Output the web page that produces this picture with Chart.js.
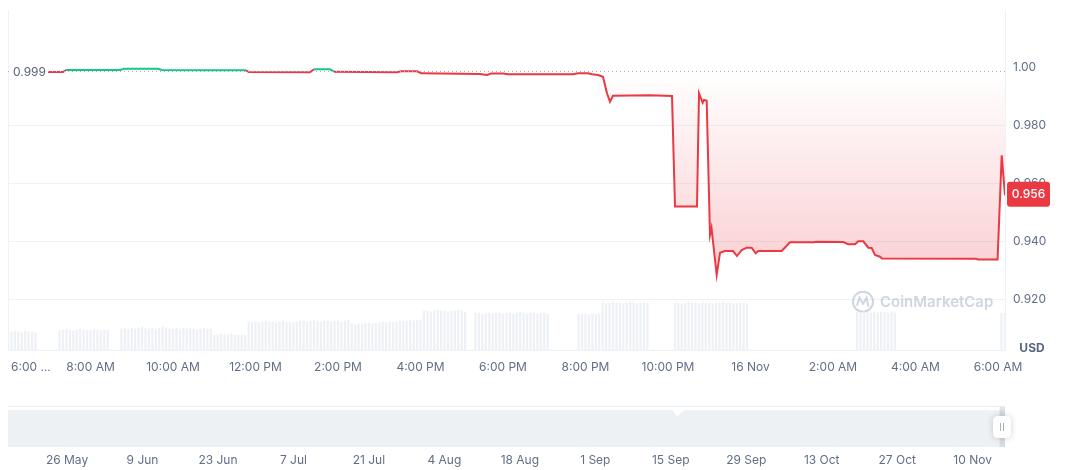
<!DOCTYPE html>
<html><head><meta charset="utf-8">
<script src="https://cdn.jsdelivr.net/npm/chart.js@4.4.1/dist/chart.umd.min.js"></script>
<style>
html,body{margin:0;padding:0;background:#fff;}
#wrap{width:1072px;height:470px;position:relative;overflow:hidden;}
canvas{display:block;}
</style></head><body>
<div id="wrap">
<canvas id="main" width="1072" height="385"></canvas>
<canvas id="nav" width="1072" height="85"></canvas>
</div>
<script>
// ---------- DATA ----------
const BASELINE = 0.999;
const CURRENT_PRICE = 0.956;

// hours since 6:00 AM (15 Nov) and price in USD
const PRICE_HOURS = [0.970,1.333,1.406,2.715,2.812,3.636,3.733,4.776,5.770,5.842,7.321,7.418,7.806,7.903,9.430,9.527,9.915,10.012,11.442,11.612,11.709,12.000,12.121,13.697,13.818,14.061,14.158,14.303,14.424,14.521,14.594,14.667,15.564,16.097,16.170,16.703,16.752,16.841,16.873,16.938,17.018,17.055,17.181,17.261,17.382,17.576,17.673,17.787,17.908,18.029,18.126,18.189,18.756,18.958,19.523,19.605,20.250,20.370,20.533,20.613,20.735,20.856,20.938,21.018,21.139,21.188,23.467,23.515,23.990,24.090,24.170];
const PRICE_VALUES = [0.99852,0.99852,0.99921,0.99921,0.99966,0.99966,0.99921,0.99910,0.99910,0.99852,0.99845,0.99945,0.99945,0.99862,0.99841,0.99876,0.99876,0.99807,0.99783,0.99748,0.99800,0.99800,0.99772,0.99772,0.99807,0.99807,0.99772,0.99748,0.99690,0.99117,0.98828,0.99034,0.99048,0.99024,0.95214,0.95214,0.99117,0.98793,0.98886,0.98862,0.94231,0.94472,0.92852,0.93621,0.93679,0.93679,0.93507,0.93714,0.93793,0.93793,0.93600,0.93679,0.93679,0.93979,0.93979,0.94000,0.93990,0.93910,0.93910,0.94014,0.94014,0.93793,0.93783,0.93541,0.93483,0.93421,0.93414,0.93386,0.93386,0.96979,0.95600];

// volume (thousand USD) in 5-minute buckets starting 6:00 AM, one row per hour
const VOLUME_5MIN = [
  17,18,19,18,17,19,18,18,17,0,0,0,
  0,0,0,19,20,21,20,19,20,21,20,20,
  20,21,20,19,20,20,0,0,0,21,22,21,
  22,21,22,23,22,21,22,21,22,23,22,21,
  21,22,21,22,21,22,21,20,21,22,21,21,
  15,15,16,15,15,16,15,15,15,15,28,28,
  28,27,28,29,28,28,27,28,29,28,28,27,
  28,29,29,28,29,30,29,28,29,29,28,29,
  29,28,29,30,26,25,26,26,27,27,26,27,
  27,28,27,28,28,28,29,29,29,30,29,30,
  30,39,39,38,39,40,39,39,38,39,39,40,
  39,38,0,0,37,37,36,37,37,36,37,37,
  36,37,37,36,37,38,37,36,37,37,36,37,
  37,36,0,0,0,0,0,0,0,0,36,36,
  36,35,36,36,36,47,46,47,48,47,47,46,
  47,48,47,46,47,47,47,0,0,0,0,0,
  0,0,47,47,46,47,48,47,47,46,47,47,
  47,46,47,47,48,47,47,46,47,47,47,46,
  0,0,0,0,0,0,0,0,0,0,0,0,
  0,0,0,0,0,0,0,0,0,0,0,0,
  0,0,0,0,0,0,0,38,37,38,38,37,
  38,37,38,38,37,38,37,0,0,0,0,0,
  0,0,0,0,0,0,0,0,0,0,0,0,
  0,0,0,0,0,0,0,0,0,0,0,0,
  0,37,37
];

const X_TICK_HOURS = [0,2,4,6,8,10,12,14,16,18,20,22,24];
const X_TICK_LABELS = ['6:00 ...','8:00 AM','10:00 AM','12:00 PM','2:00 PM','4:00 PM','6:00 PM','8:00 PM','10:00 PM','16 Nov','2:00 AM','4:00 AM','6:00 AM'];
const Y_TICKS = [0.92,0.94,0.96,0.98,1.00];

// navigator: days since 26 May, price
const NAV_DAYS =   [-11,-4,3,10,17,24,31,38,45,52,59,66,73,80,87,94,101,108,112.2,113.2,114.5,122,129,136,143,150,157,164,171,174];
const NAV_VALUES = [1.0,1.0,1.0,1.0,1.0,1.0,1.0,1.0,1.0,1.0,1.0,1.0,1.0,1.0,1.0,1.0,1.0,1.0,1.0,0.83,0.99,0.995,0.995,0.995,0.995,0.995,0.995,0.995,0.995,0.995];
const NAV_TICK_DAYS = [0,14,28,42,56,70,84,98,112,126,140,154,168];
const NAV_TICK_LABELS = ['26 May','9 Jun','23 Jun','7 Jul','21 Jul','4 Aug','18 Aug','1 Sep','15 Sep','29 Sep','13 Oct','27 Oct','10 Nov'];

// ---------- STYLE ----------
const RED = '#ea3943', GREEN = '#16c784';
const TICK_COLOR = '#616e85', TEXT = '#58667e', GRID = '#eff2f5';
const FONT = 'Inter, "Noto Sans", sans-serif';
Chart.defaults.font.family = FONT;
Chart.defaults.font.size = 12;
Chart.defaults.color = TICK_COLOR;

function rr(ctx, x, y, w, h, r){
  ctx.beginPath();
  ctx.moveTo(x+r,y); ctx.lineTo(x+w-r,y); ctx.quadraticCurveTo(x+w,y,x+w,y+r);
  ctx.lineTo(x+w,y+h-r); ctx.quadraticCurveTo(x+w,y+h,x+w-r,y+h);
  ctx.lineTo(x+r,y+h); ctx.quadraticCurveTo(x,y+h,x,y+h-r);
  ctx.lineTo(x,y+r); ctx.quadraticCurveTo(x,y,x+r,y); ctx.closePath();
}

const mainDecor = {
  id: 'mainDecor',
  beforeDatasetsDraw(chart){
    const {ctx, chartArea:a, scales} = chart;
    ctx.save();
    ctx.strokeStyle = GRID; ctx.lineWidth = 1;
    ctx.beginPath(); ctx.moveTo(a.left+0.5, a.top); ctx.lineTo(a.left+0.5, a.bottom); ctx.stroke();
    // watermark
    const wy = scales.y.getPixelForValue(0.92) + 2;
    const lx = a.right - 142;
    const wc = 'rgba(170,180,198,0.55)';
    ctx.strokeStyle = wc; ctx.lineWidth = 2;
    ctx.beginPath(); ctx.arc(lx, wy, 10, 0, Math.PI*2); ctx.stroke();
    ctx.beginPath(); ctx.moveTo(lx-6, wy+4); ctx.lineTo(lx-3.5, wy-4); ctx.lineTo(lx, wy+2); ctx.lineTo(lx+3.5, wy-4); ctx.lineTo(lx+5.5, wy+5); ctx.stroke();
    ctx.fillStyle = wc; ctx.font = '600 15px ' + FONT; ctx.textBaseline = 'middle'; ctx.textAlign = 'left';
    ctx.fillText('CoinMarketCap', lx+17, wy+1);
    ctx.restore();
  },
  afterDatasetsDraw(chart){
    const {ctx, chartArea:a, scales} = chart;
    ctx.save();
    const by = Math.round(scales.y.getPixelForValue(BASELINE)) + 0.5;
    ctx.strokeStyle = '#a6b0c3'; ctx.lineWidth = 1; ctx.setLineDash([1,3]);
    ctx.beginPath(); ctx.moveTo(a.left, by); ctx.lineTo(a.right, by); ctx.stroke();
    ctx.setLineDash([]);
    ctx.fillStyle = '#fff'; ctx.fillRect(a.left+3, by-7, 36, 14);
    ctx.fillStyle = TEXT; ctx.font = '12px ' + FONT; ctx.textAlign = 'left'; ctx.textBaseline = 'middle';
    ctx.fillText(BASELINE.toFixed(3), a.left+5, by+1);
    // current price tag
    const py = scales.y.getPixelForValue(CURRENT_PRICE) - 1;
    ctx.fillStyle = RED; rr(ctx, a.right+2, py-12.5, 43, 25, 3); ctx.fill();
    ctx.fillStyle = '#fff'; ctx.font = '500 12px ' + FONT; ctx.textAlign = 'center';
    ctx.fillText(CURRENT_PRICE.toFixed(3), a.right+23.5, py+0.5);
    // USD
    ctx.fillStyle = TEXT; ctx.font = 'bold 12px ' + FONT;
    ctx.fillText('USD', a.right+27, a.bottom-2);
    // first x label
    ctx.fillStyle = TICK_COLOR; ctx.font = '12px ' + FONT; ctx.textAlign = 'left';
    ctx.fillText(X_TICK_LABELS[0], a.left+3, a.bottom+17);
    ctx.restore();
  }
};

const priceData = PRICE_HOURS.map((h,i)=>({x:h, y:PRICE_VALUES[i]}));
const volData = VOLUME_5MIN.map((v,i)=>({x:i/12, y:v}));

new Chart(document.getElementById('main'), {
  data: {
    datasets: [
      {
        type: 'line', data: priceData, yAxisID: 'y', order: 0,
        borderWidth: 2, pointRadius: 0, tension: 0, borderColor: RED,
        segment: { borderColor: c => ((c.p0.parsed.y + c.p1.parsed.y)/2 >= BASELINE ? GREEN : RED) },
        fill: { value: BASELINE, above: 'rgba(22,199,132,0.05)' },
        backgroundColor: c => {
          const ch = c.chart;
          if (!ch.chartArea || !ch.scales.y) return 'rgba(234,57,67,0.1)';
          const y = ch.scales.y;
          const g = ch.ctx.createLinearGradient(0, y.getPixelForValue(BASELINE), 0, y.getPixelForValue(0.925));
          g.addColorStop(0, 'rgba(234,57,67,0.0)');
          g.addColorStop(1, 'rgba(234,57,67,0.25)');
          return g;
        }
      },
      {
        type: 'bar', data: volData, yAxisID: 'yv', order: 1,
        backgroundColor: '#edf0f4', borderWidth: 0, barThickness: 1.5
      }
    ]
  },
  options: {
    responsive: false, animation: false, devicePixelRatio: 1,
    layout: { padding: { top: 10, left: 8, right: 0, bottom: 0 } },
    plugins: { legend: { display: false }, tooltip: { enabled: false } },
    scales: {
      x: {
        type: 'linear', min: 0, max: 24.17, offset: false,
        afterBuildTicks: s => { s.ticks = X_TICK_HOURS.map(v => ({value: v})); },
        ticks: { autoSkip: false, maxRotation: 0, padding: 10, callback: (v, i) => i === 0 ? '' : X_TICK_LABELS[i] },
        grid: { drawOnChartArea: false, drawTicks: false, offset: false },
        border: { display: true, color: GRID },
        afterFit: s => { s.height = 35; s.paddingLeft = 0; s.paddingRight = 0; }
      },
      y: {
        position: 'right', min: 0.90266, max: 1.0199,
        afterBuildTicks: s => { s.ticks = Y_TICKS.map(v => ({value: v})); },
        ticks: { padding: 8, color: TICK_COLOR, callback: v => v === 1 ? '1.00' : v.toFixed(3) },
        grid: { drawTicks: false, color: c => (c.tick && c.tick.value === 1) ? 'rgba(0,0,0,0)' : GRID },
        border: { display: true, color: GRID },
        afterFit: s => { s.width = 67; s.paddingTop = 0; s.paddingBottom = 0; }
      },
      yv: { display: false, min: 0, max: 340 }
    }
  },
  plugins: [mainDecor]
});

// ---------- NAVIGATOR ----------
const navDecor = {
  id: 'navDecor',
  beforeDatasetsDraw(chart){
    const {ctx, chartArea:a} = chart;
    ctx.save();
    ctx.strokeStyle = '#e9ecf1'; ctx.lineWidth = 1;
    ctx.beginPath(); ctx.moveTo(a.left, a.top+1.5); ctx.lineTo(a.right, a.top+1.5); ctx.stroke();
    ctx.restore();
  },
  afterDatasetsDraw(chart){
    const {ctx, chartArea:a, scales} = chart;
    ctx.save();
    const sx = scales.x.getPixelForValue(173);
    ctx.fillStyle = 'rgba(166,176,195,0.35)';
    ctx.fillRect(sx, a.top+2, a.right - sx, a.bottom - a.top - 2);
    const cx = a.right - 3, cy = (a.top + a.bottom)/2 + 1;
    ctx.shadowColor = 'rgba(0,0,0,0.18)'; ctx.shadowBlur = 6;
    ctx.fillStyle = '#fff'; rr(ctx, cx-9, cy-11, 18, 22, 5); ctx.fill();
    ctx.shadowColor = 'transparent'; ctx.shadowBlur = 0;
    ctx.strokeStyle = '#a6b0c3'; ctx.lineWidth = 1;
    ctx.beginPath(); ctx.moveTo(cx-1.5, cy-4); ctx.lineTo(cx-1.5, cy+4); ctx.moveTo(cx+1.5, cy-4); ctx.lineTo(cx+1.5, cy+4); ctx.stroke();
    ctx.restore();
  }
};

new Chart(document.getElementById('nav'), {
  type: 'line',
  data: { datasets: [{
    data: NAV_DAYS.map((d,i)=>({x:d, y:NAV_VALUES[i]})),
    fill: 'origin', backgroundColor: '#eef1f4', borderColor: 'rgba(0,0,0,0)', borderWidth: 1,
    pointRadius: 0, tension: 0
  }]},
  options: {
    responsive: false, animation: false, devicePixelRatio: 1,
    layout: { padding: { top: 20, left: 8, right: 67, bottom: 0 } },
    plugins: { legend: { display: false }, tooltip: { enabled: false } },
    scales: {
      x: {
        type: 'linear', min: -10.95, max: 174,
        afterBuildTicks: s => { s.ticks = NAV_TICK_DAYS.map(v => ({value: v})); },
        ticks: { autoSkip: false, maxRotation: 0, padding: 6, callback: (v, i) => NAV_TICK_LABELS[i] },
        grid: { display: false, drawTicks: false },
        border: { display: false },
        afterFit: s => { s.height = 23; }
      },
      y: { display: false, min: 0, max: 1.135 }
    }
  },
  plugins: [navDecor]
});
</script>
</body></html>
